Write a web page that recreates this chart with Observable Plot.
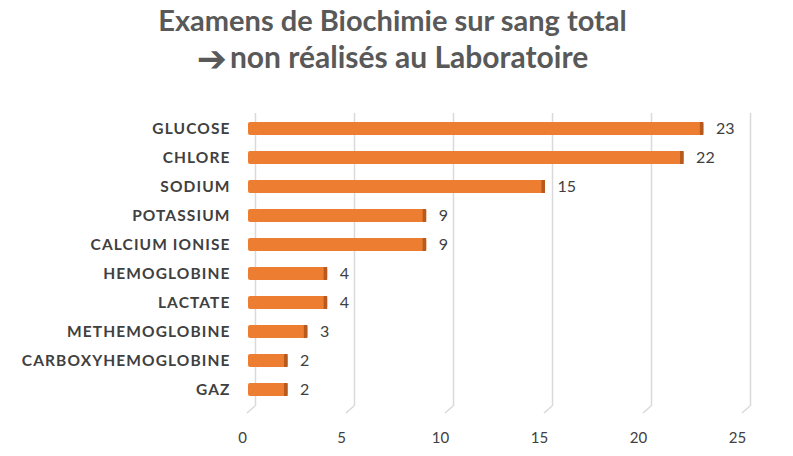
<!DOCTYPE html>
<html><head><meta charset="utf-8">
<script src="https://cdn.jsdelivr.net/npm/d3@7"></script>
<script src="https://cdn.jsdelivr.net/npm/@observablehq/plot@0.6"></script>
<style>
body{margin:0;background:#fff;width:793px;height:456px;overflow:hidden;}
#title{height:95px;box-sizing:border-box;padding-top:2px;text-align:center;font-family:Lato,"Open Sans",sans-serif;font-weight:700;font-size:29px;line-height:36px;color:#595959;padding-right:8px}
#title .l2{font-size:30px}
#title .arr{font-family:"DejaVu Sans";font-size:36px;font-weight:700;line-height:0;vertical-align:-3px;margin-right:3px}
svg{display:block}
g[aria-label="y-axis tick label"] text{letter-spacing:1.1px}
</style></head>
<body>
<div id="title">Examens de Biochimie sur sang total<br><span class="l2"><span class="arr">➔</span>non réalisés au Laboratoire</span></div>
<div id="chart"></div>
<script>
const categories = ["GLUCOSE","CHLORE","SODIUM","POTASSIUM","CALCIUM IONISE","HEMOGLOBINE","LACTATE","METHEMOGLOBINE","CARBOXYHEMOGLOBINE","GAZ"];
const values = [23,22,15,9,9,4,4,3,2,2];
const xTicks = [0,5,10,15,20,25];

const data = categories.map((c,i)=>({cat:c, v:values[i]}));

// small diagonal "floor" strokes at the foot of each gridline (3D look)
const floorTicks = (index, scales, values, dims) => {
  const g = d3.create("svg:g").attr("stroke", "#d9d9d9").attr("stroke-width", 1.5);
  const yb = dims.height - dims.marginBottom;
  for (const t of xTicks) {
    const x = scales.x(t) + 7;
    g.append("line").attr("x1", x).attr("y1", yb).attr("x2", x - 8).attr("y2", yb + 7);
  }
  return g.node();
};

const plot = Plot.plot({
  width: 793,
  height: 361,
  marginLeft: 248,
  marginRight: 50,
  marginTop: 18,
  marginBottom: 50,
  style: {fontFamily: "Lato, 'Open Sans', sans-serif", background: "#fff"},
  x: {domain: [0,25], ticks: xTicks},
  y: {domain: categories, paddingInner: 0.55, paddingOuter: 0.275},
  marks: [
    Plot.ruleX(xTicks, {stroke: "#d9d9d9", strokeWidth: 1.5, dx: 7}),
    floorTicks,
    Plot.barX(data, {y: "cat", x: "v", fill: "#ED7D31", rx: 2}),
    Plot.barX(data, {y: "cat", x1: d => d.v - 0.18, x2: "v", fill: "#B85A1E"}),
    Plot.text(data, {y: "cat", x: "v", text: d => String(d.v), dx: 12, textAnchor: "start", fill: "#404040", fontSize: 16}),
    Plot.axisY({tickSize: 0, tickPadding: 18, fontSize: 15.5, fontWeight: 700, color: "#404040", label: null}),
    Plot.axisX({ticks: xTicks, tickSize: 0, tickPadding: 26, fontSize: 15, color: "#404040", dx: -6, label: null})
  ]
});
document.getElementById("chart").appendChild(plot);
</script>
</body></html>
